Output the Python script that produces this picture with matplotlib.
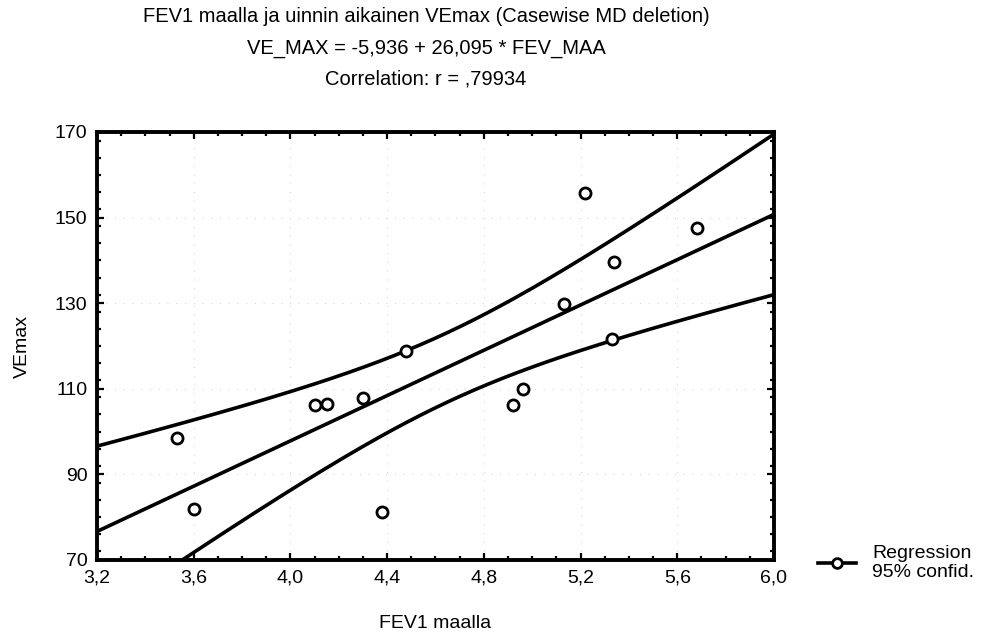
import matplotlib
matplotlib.use('Agg')
import matplotlib.pyplot as plt
from matplotlib.lines import Line2D
from matplotlib.ticker import MultipleLocator, FuncFormatter
import numpy as np

# FEV1 on land vs. VEmax during swimming
fev_maa = [3.53, 3.60, 4.10, 4.15, 4.30, 4.38, 4.48, 4.92, 4.96,
           5.22, 5.68, 5.34, 5.13, 5.33]
ve_max = [98.4, 81.8, 106.1, 106.4, 107.8, 81.2, 118.9, 106.1, 110.0,
          155.7, 147.5, 139.7, 129.8, 121.6]

title_lines = ['FEV1 maalla ja uinnin aikainen VEmax (Casewise MD deletion)',
               'VE_MAX = -5,936 + 26,095 * FEV_MAA',
               'Correlation: r = ,79934']
x_label = 'FEV1 maalla'
y_label = 'VEmax'
x_ticks = [3.2, 3.6, 4.0, 4.4, 4.8, 5.2, 5.6, 6.0]
y_ticks = [70, 90, 110, 130, 150, 170]
T_975_12 = 2.179  # t quantile, df = n - 2

plt.rcParams['font.family'] = ['Liberation Sans', 'DejaVu Sans']

x = np.array(fev_maa)
y = np.array(ve_max)
n = len(x)
slope, icpt = np.polyfit(x, y, 1)
resid = y - (icpt + slope * x)
s = np.sqrt((resid ** 2).sum() / (n - 2))
sxx = ((x - x.mean()) ** 2).sum()

xs = np.linspace(x_ticks[0], x_ticks[-1], 200)
fit = icpt + slope * xs
half = T_975_12 * s * np.sqrt(1.0 / n + (xs - x.mean()) ** 2 / sxx)

fig = plt.figure(figsize=(9.81, 6.41), dpi=100)
ax = fig.add_axes([97 / 981, 1 - 560 / 641, 677 / 981, 428 / 641])

ax.plot(xs, fit, color='black', lw=2.6, zorder=3)
ax.plot(xs, fit + half, color='black', lw=2.6, zorder=3)
ax.plot(xs, fit - half, color='black', lw=2.6, zorder=3)
ax.plot(x, y, 'o', ms=8, mfc='white', mec='black', mew=2.0, zorder=4)

ax.set_xlim(x_ticks[0], x_ticks[-1])
ax.set_ylim(y_ticks[0], y_ticks[-1])
ax.set_xticks(x_ticks)
ax.set_yticks(y_ticks)
ax.xaxis.set_minor_locator(MultipleLocator(0.1))
ax.yaxis.set_minor_locator(MultipleLocator(4))
ax.xaxis.set_major_formatter(FuncFormatter(lambda v, p: ('%.1f' % v).replace('.', ',')))
ax.tick_params(which='both', direction='in', top=True, right=True,
               width=1.6, labelsize=14, pad=7)
ax.tick_params(which='major', length=5)
ax.tick_params(which='minor', length=3)
for sp in ax.spines.values():
    sp.set_linewidth(2.8)
ax.grid(True, which='major', color='#cfcfcf', lw=0.7, ls=(0, (1, 8)))

ax.set_xlabel(x_label, fontsize=14, labelpad=20)
ax.set_ylabel(y_label, fontsize=14, labelpad=17)

for i, line in enumerate(title_lines):
    fig.text(426 / 981, 1 - (17 + 31 * i) / 641, line, ha='center',
             va='center', fontsize=14.5)

handle = Line2D([0], [0], color='black', lw=2.6, marker='o', ms=7,
                mfc='white', mec='black', mew=2.0)
fig.legend([handle], ['Regression\n95% confid.'], loc='center left',
           bbox_to_anchor=(800 / 981, 1 - 563 / 641), frameon=False,
           fontsize=14, handlelength=2.0, handletextpad=0.8)

fig.savefig('out.png', dpi=100)
